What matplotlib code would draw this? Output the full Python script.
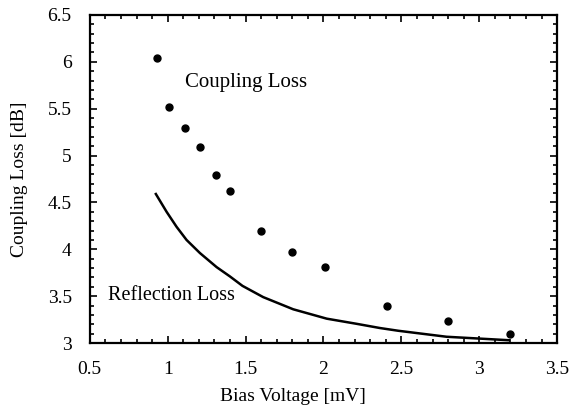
import matplotlib
matplotlib.use("Agg")
import matplotlib.pyplot as plt
from matplotlib.ticker import MultipleLocator

plt.rcParams['font.family'] = ['Liberation Serif', 'DejaVu Serif']

# measured coupling loss
bias_mv = [0.93, 1.01, 1.11, 1.21, 1.31, 1.40, 1.60, 1.80, 2.01, 2.41, 2.80, 3.20]
coupling_db = [6.04, 5.52, 5.29, 5.09, 4.79, 4.62, 4.19, 3.97, 3.81, 3.39, 3.24, 3.10]

# calculated reflection loss
refl_bias = [0.924, 0.993, 1.057, 1.121, 1.207, 1.314, 1.40, 1.48, 1.613, 1.806,
             2.021, 2.213, 2.363, 2.48, 2.79, 3.19]
refl_db = [4.59, 4.40, 4.24, 4.10, 3.96, 3.81, 3.71, 3.61, 3.49, 3.36,
           3.26, 3.205, 3.16, 3.131, 3.067, 3.03]

fig = plt.figure(figsize=(5.72, 4.05), dpi=100)
ax = fig.add_axes([0.157, 0.153, 0.817, 0.810])

ax.plot(bias_mv, coupling_db, 'o', color='black', markersize=5)
ax.plot(refl_bias, refl_db, '-', color='black', linewidth=1.8)

ax.text(1.11, 5.78, "Coupling Loss", fontsize=15, va='center', ha='left')
ax.text(0.617, 3.51, "Reflection Loss", fontsize=14.5, va='center', ha='left')

ax.set_xlim(0.5, 3.5)
ax.set_ylim(3, 6.5)
ax.xaxis.set_major_locator(MultipleLocator(0.5))
ax.xaxis.set_minor_locator(MultipleLocator(0.1))
ax.yaxis.set_major_locator(MultipleLocator(0.5))
ax.yaxis.set_minor_locator(MultipleLocator(0.1))
ax.xaxis.set_major_formatter(plt.FuncFormatter(lambda v, p: f"{v:g}"))
ax.yaxis.set_major_formatter(plt.FuncFormatter(lambda v, p: f"{v:g}"))

ax.tick_params(which='both', direction='in', top=True, right=True, width=1.2)
ax.tick_params(which='major', length=5, labelsize=14, pad=13)
ax.tick_params(which='minor', length=3)
for s in ax.spines.values():
    s.set_linewidth(1.6)

ax.set_xlabel("Bias Voltage [mV]", fontsize=14)
ax.set_ylabel("Coupling Loss [dB]", fontsize=14)
ax.xaxis.set_label_coords(0.434, -0.164)
ax.xaxis.label.set_va('center')
ax.yaxis.set_label_coords(-0.15, 0.5)
ax.yaxis.label.set_va('center')

fig.savefig("out.png", dpi=100)
